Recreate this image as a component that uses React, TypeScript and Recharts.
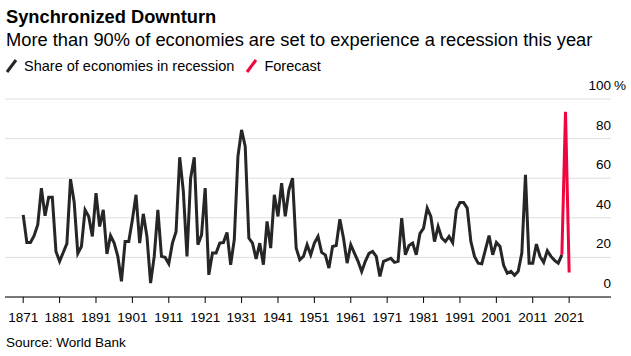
import { LineChart, Line, XAxis, YAxis, CartesianGrid } from 'recharts';

const FONT = '"Liberation Sans", Arial, Helvetica, sans-serif';

const firstYear = 1871;

// share of economies in recession, 1871-2019 (%)
const recessionShare = [
  41.5, 27.5, 27.5, 31, 36.5, 55, 41, 50.4, 50.4, 23,
  18, 22.5, 27, 59.5, 48, 22, 25.5, 44, 40.7, 30.6,
  52.5, 35.6, 44, 21.8, 31, 27.2, 20.5, 7.9, 28, 28,
  39, 51.6, 27.2, 42, 30.6, 7, 20.5, 44, 20.5, 20,
  16.8, 27.2, 33, 70.6, 53.3, 20.5, 60, 70.6, 26.4, 31.4,
  55, 11.2, 22.2, 22.2, 27.2, 27.5, 32.6, 16.3, 29, 71,
  84.4, 76, 29.8, 27.2, 19.2, 27.2, 16.3, 38.2, 24.7, 51.6,
  40.7, 57.5, 40.7, 54, 60, 24.7, 18.8, 20.5, 26.4, 21.3,
  27.2, 30.6, 22.5, 21.3, 14.6, 25.5, 26, 39.3, 29.8, 17.1,
  26.4, 22.2, 18, 12.9, 18, 22, 23, 20.5, 10.4, 18,
  18.8, 19.6, 17.5, 18, 39.8, 21.3, 26, 27.2, 21.3, 32,
  34.8, 44.9, 40.7, 28, 35.6, 29.8, 28, 30.6, 27.5, 44,
  47.7, 47.7, 44.9, 28, 20.5, 17.1, 16.8, 23.9, 31, 21.3,
  27.5, 25.5, 16, 12, 13, 11, 13, 22.2, 61.7, 17.1,
  17.1, 26.7, 20.5, 17.5, 23.4, 20.5, 18.5, 17.1, 21.3,
];

const forecastYears = [2019, 2020, 2021];
const forecastShare = [21.3, 93.6, 12.4];

const xTicks = [1871, 1881, 1891, 1901, 1911, 1921, 1931, 1941, 1951, 1961, 1971, 1981, 1991, 2001, 2011, 2021];
const yTicks = [0, 20, 40, 60, 80, 100];

const rows: { year: number; share?: number; forecast?: number }[] = recessionShare.map((v, i) => ({
  year: firstYear + i,
  share: v,
}));
forecastYears.forEach((yr, i) => {
  const row = rows.find((r) => r.year === yr);
  if (row) row.forecast = forecastShare[i];
  else rows.push({ year: yr, forecast: forecastShare[i] });
});

const YTick = (props: any) => {
  const { y, payload } = props;
  return (
    <g>
      <text x={611} y={y - 9} textAnchor="end" fontSize={13.5} fill="#000" fontFamily={FONT}>
        {payload.value}
      </text>
      {payload.value === 100 && (
        <text x={614} y={y - 9} textAnchor="start" fontSize={13.5} fill="#000" fontFamily={FONT}>
          %
        </text>
      )}
    </g>
  );
};

const Slash = ({ color }: { color: string }) => (
  <svg width={13} height={15} style={{ verticalAlign: 'middle', marginRight: 6, marginTop: -3 }}>
    <line x1={2} y1={14} x2={11} y2={2} stroke={color} strokeWidth={3} />
  </svg>
);

export default function App() {
  return (
    <div style={{ position: 'absolute', left: 0, top: 0, width: 631, height: 356, background: '#fff', fontFamily: FONT }}>
      <div style={{ position: 'absolute', left: 6, top: 7, fontSize: 18.3, fontWeight: 'bold', color: '#000', lineHeight: '20px' }}>
        Synchronized Downturn
      </div>
      <div style={{ position: 'absolute', left: 6, top: 30, fontSize: 18.3, color: '#000', lineHeight: '20px' }}>
        More than 90% of economies are set to experience a recession this year
      </div>
      <div style={{ position: 'absolute', left: 5, top: 57, fontSize: 14.5, color: '#000', lineHeight: '18px', whiteSpace: 'nowrap' }}>
        <Slash color="#262626" />
        <span>Share of economies in recession</span>
        <span style={{ display: 'inline-block', width: 11 }} />
        <Slash color="#f0053f" />
        <span>Forecast</span>
      </div>
      <div style={{ position: 'absolute', left: 6, top: 335, fontSize: 13.5, color: '#000', lineHeight: '16px' }}>
        Source: World Bank
      </div>
      <div style={{ position: 'absolute', left: 0, top: 0 }}>
        <LineChart
          width={631}
          height={356}
          data={rows}
          margin={{ top: 99, right: 20, left: 5, bottom: 29 }}
          style={{ fontFamily: FONT }}
        >
          <CartesianGrid vertical={false} stroke="#dedede" strokeWidth={1} />
          <XAxis
            dataKey="year"
            type="number"
            domain={[1866, 2032.5]}
            ticks={xTicks}
            interval={0}
            height={30}
            tickSize={6}
            tickMargin={9}
            axisLine={{ stroke: '#000' }}
            tickLine={{ stroke: '#000' }}
            tick={{ fontSize: 13.5, fill: '#000' }}
          />
          <YAxis
            orientation="right"
            mirror
            domain={[0, 100]}
            ticks={yTicks}
            axisLine={false}
            tickLine={false}
            tick={<YTick />}
          />
          <Line
            dataKey="share"
            stroke="#262626"
            strokeWidth={3}
            dot={false}
            type="linear"
            isAnimationActive={false}
          />
          <Line
            dataKey="forecast"
            stroke="#f0053f"
            strokeWidth={3}
            dot={false}
            type="linear"
            isAnimationActive={false}
          />
        </LineChart>
      </div>
    </div>
  );
}
